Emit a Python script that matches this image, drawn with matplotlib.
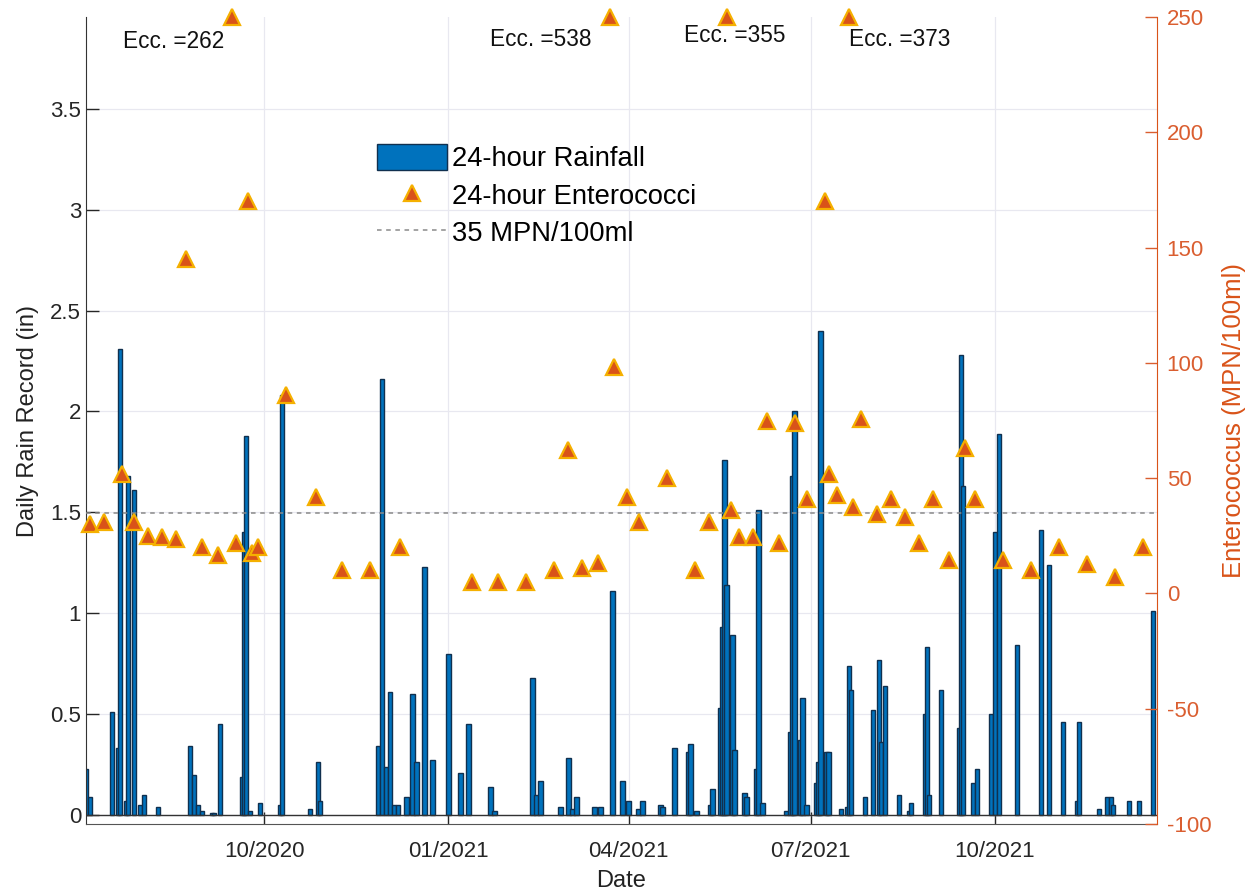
import matplotlib
matplotlib.use("Agg")
import matplotlib.pyplot as plt
import matplotlib.dates as mdates
import pandas as pd
import numpy as np

plt.rcParams['font.family'] = ['Liberation Sans', 'DejaVu Sans']
plt.rcParams['axes.unicode_minus'] = False

# ---------------- data ----------------
rain_dates = [
    "2020-07-04", "2020-07-06", "2020-07-17", "2020-07-20", "2020-07-21", "2020-07-24",
    "2020-07-25", "2020-07-28", "2020-07-31", "2020-08-02", "2020-08-09", "2020-08-25",
    "2020-08-27", "2020-08-29", "2020-08-31", "2020-09-05", "2020-09-06", "2020-09-09",
    "2020-09-20", "2020-09-21", "2020-09-22", "2020-09-24", "2020-09-29", "2020-10-09",
    "2020-10-10", "2020-10-24", "2020-10-28", "2020-10-29", "2020-11-27", "2020-11-29",
    "2020-12-01", "2020-12-03", "2020-12-05", "2020-12-07", "2020-12-11", "2020-12-14",
    "2020-12-16", "2020-12-20", "2020-12-24", "2021-01-01", "2021-01-07", "2021-01-11",
    "2021-01-22", "2021-01-24", "2021-02-12", "2021-02-14", "2021-02-16", "2021-02-26",
    "2021-03-02", "2021-03-04", "2021-03-06", "2021-03-15", "2021-03-18", "2021-03-24",
    "2021-03-29", "2021-04-01", "2021-04-06", "2021-04-08", "2021-04-17", "2021-04-18",
    "2021-04-24", "2021-05-01", "2021-05-02", "2021-05-05", "2021-05-12", "2021-05-13",
    "2021-05-17", "2021-05-18", "2021-05-19", "2021-05-20", "2021-05-23", "2021-05-24",
    "2021-05-29", "2021-05-30", "2021-06-04", "2021-06-05", "2021-06-07", "2021-06-19",
    "2021-06-21", "2021-06-22", "2021-06-23", "2021-06-26", "2021-06-27", "2021-06-29",
    "2021-07-04", "2021-07-05", "2021-07-06", "2021-07-09", "2021-07-10", "2021-07-16",
    "2021-07-19", "2021-07-20", "2021-07-21", "2021-07-28", "2021-08-01", "2021-08-04",
    "2021-08-05", "2021-08-07", "2021-08-14", "2021-08-19", "2021-08-20", "2021-08-27",
    "2021-08-28", "2021-08-29", "2021-09-04", "2021-09-13", "2021-09-14", "2021-09-15",
    "2021-09-20", "2021-09-22", "2021-09-29", "2021-10-01", "2021-10-03", "2021-10-12",
    "2021-10-24", "2021-10-28", "2021-11-04", "2021-11-11", "2021-11-12", "2021-11-22",
    "2021-11-26", "2021-11-28", "2021-11-29", "2021-12-07", "2021-12-12", "2021-12-19",
]
rain_inches = [
    0.23, 0.09, 0.51, 0.33, 2.31, 0.07,
    1.68, 1.61, 0.05, 0.10, 0.04, 0.34,
    0.20, 0.05, 0.02, 0.01, 0.01, 0.45,
    0.19, 1.40, 1.88, 0.02, 0.06, 0.05,
    2.08, 0.03, 0.26, 0.07, 0.34, 2.16,
    0.24, 0.61, 0.05, 0.05, 0.09, 0.60,
    0.26, 1.23, 0.27, 0.80, 0.21, 0.45,
    0.14, 0.02, 0.68, 0.10, 0.17, 0.04,
    0.28, 0.03, 0.09, 0.04, 0.04, 1.11,
    0.17, 0.07, 0.03, 0.07, 0.05, 0.04,
    0.33, 0.31, 0.35, 0.02, 0.05, 0.13,
    0.53, 0.93, 1.76, 1.14, 0.89, 0.32,
    0.11, 0.09, 0.23, 1.51, 0.06, 0.02,
    0.41, 1.68, 2.00, 0.37, 0.58, 0.05,
    0.16, 0.26, 2.40, 0.31, 0.31, 0.03,
    0.04, 0.74, 0.62, 0.09, 0.52, 0.77,
    0.36, 0.64, 0.10, 0.02, 0.06, 0.50,
    0.83, 0.10, 0.62, 0.43, 2.28, 1.63,
    0.16, 0.23, 0.50, 1.40, 1.89, 0.84,
    1.41, 1.24, 0.46, 0.07, 0.46, 0.03,
    0.09, 0.09, 0.05, 0.07, 0.07, 1.01,
]

entero_dates = [
    "2020-07-06", "2020-07-13", "2020-07-22", "2020-07-28", "2020-08-04", "2020-08-11",
    "2020-08-18", "2020-08-23", "2020-08-31", "2020-09-08", "2020-09-15", "2020-09-17",
    "2020-09-23", "2020-09-25", "2020-09-28", "2020-10-12", "2020-10-27", "2020-11-09",
    "2020-11-23", "2020-12-08", "2021-01-13", "2021-01-26", "2021-02-09", "2021-02-23",
    "2021-03-02", "2021-03-09", "2021-03-17", "2021-03-23", "2021-03-25", "2021-03-31",
    "2021-04-06", "2021-04-20", "2021-05-04", "2021-05-11", "2021-05-20", "2021-05-22",
    "2021-05-26", "2021-06-02", "2021-06-09", "2021-06-15", "2021-06-23", "2021-06-29",
    "2021-07-08", "2021-07-10", "2021-07-14", "2021-07-20", "2021-07-22", "2021-07-26",
    "2021-08-03", "2021-08-10", "2021-08-17", "2021-08-24", "2021-08-31", "2021-09-08",
    "2021-09-16", "2021-09-21", "2021-10-05", "2021-10-19", "2021-11-02", "2021-11-16",
    "2021-11-30", "2021-12-14",
]
entero_mpn = [
    30, 31, 52, 31, 25, 24.5,
    23.5, 145, 20, 16.5, 262, 22,
    170, 17.5, 20, 86, 42, 10,
    10, 20, 5, 5, 5, 10,
    62, 11, 13, 538, 98, 42,
    31, 50, 10, 31, 355, 36,
    24.5, 24.5, 75, 22, 74, 41,
    170, 52, 42.5, 373, 37.5, 75.5,
    34.5, 41, 33, 22, 41, 14.5,
    63, 41, 14.5, 10, 20, 12.7,
    7, 20,
]

threshold = 35  # MPN/100ml
ecc_label_offsets = {262: (-109, -25), 538: (-120, -22), 355: (-43, -19), 373: (0, -23)}

date_ticks = ["2020-10-01", "2021-01-01", "2021-04-01", "2021-07-01", "2021-10-01"]
x_limits = ["2020-07-04", "2021-12-21"]

# ---------------- plot ----------------
BLUE = '#0072BD'
EDGE = '#10304f'
ORANGE = '#D95319'

fig = plt.figure(figsize=(12.6, 8.94), dpi=100)
ax = fig.add_axes([86 / 1260, 1 - 824 / 894, (1157 - 86) / 1260, (824 - 17) / 894])

rd = pd.to_datetime(rain_dates)
bars = ax.bar(rd, rain_inches, width=2.2, color=BLUE, edgecolor=EDGE, linewidth=1.0,
              label='24-hour Rainfall', zorder=2)
ax.axhline(0, color='#333333', lw=1.0, zorder=3)
ax.set_ylim(-0.045, 3.955)
ax.set_yticks(np.arange(0, 3.51, 0.5))
ax.set_yticklabels(['0', '0.5', '1', '1.5', '2', '2.5', '3', '3.5'])
ax.set_xlim(pd.to_datetime(x_limits[0]), pd.to_datetime(x_limits[1]))
ax.set_xticks(pd.to_datetime(date_ticks))
ax.xaxis.set_major_formatter(mdates.DateFormatter('%m/%Y'))
ax.set_ylabel('Daily Rain Record (in)', fontsize=17, color='#222222', labelpad=8)
ax.set_xlabel('Date', fontsize=17, color='#222222', labelpad=6)
ax.tick_params(axis='both', direction='in', length=9, width=1, labelsize=16, colors='#262626')
ax.tick_params(axis='x', pad=12)
ax.grid(True, color='#e8e8f0', lw=0.9, zorder=0)
ax.set_axisbelow(True)
for s in ['top', 'right']:
    ax.spines[s].set_visible(False)
ax.spines['left'].set_color('#333333')
ax.spines['bottom'].set_color('#555555')

ax2 = ax.twinx()
ax2.set_position(ax.get_position())
ed = pd.to_datetime(entero_dates)
ymax2 = 250
plot_vals = np.minimum(np.array(entero_mpn, dtype=float), ymax2)
tri, = ax2.plot(ed, plot_vals, linestyle='none', marker='^', markersize=11,
                markerfacecolor=ORANGE, markeredgecolor='#F5B000', markeredgewidth=1.6,
                label='24-hour Enterococci', clip_on=False, zorder=4)
thr = ax2.axhline(threshold, color='#8a8a8a', lw=1.1, linestyle=(0, (3, 3)),
                  label='35 MPN/100ml', zorder=3)
ax2.set_ylim(-100, 250)
ax2.set_yticks(np.arange(-100, 251, 50))
ax2.set_ylabel('Enterococcus (MPN/100ml)', fontsize=18.5, color=ORANGE, labelpad=8)
ax2.tick_params(axis='y', direction='in', length=9, width=1, labelsize=16, colors='#DA5E30', pad=7)
for s in ['top', 'left', 'bottom']:
    ax2.spines[s].set_visible(False)
ax2.spines['right'].set_color(ORANGE)

for d, v in zip(ed, entero_mpn):
    if v > ymax2:
        dx, dy = ecc_label_offsets.get(v, (0, -20))
        ax2.annotate(f'Ecc. ={v}', xy=(d, ymax2), xytext=(dx, dy), textcoords='offset pixels',
                     ha='left', va='center', fontsize=16.3, color='#111111')

leg = ax2.legend(handles=[bars, tri, thr], loc='upper left',
                 bbox_to_anchor=((377 - 86) / 1071, (824 - 144) / 807),
                 frameon=False, fontsize=19.7, handlelength=2.55, handleheight=1.1,
                 handletextpad=0.18, labelspacing=0.33, borderpad=0.0, borderaxespad=0.0)

fig.savefig('out.png', dpi=100)
